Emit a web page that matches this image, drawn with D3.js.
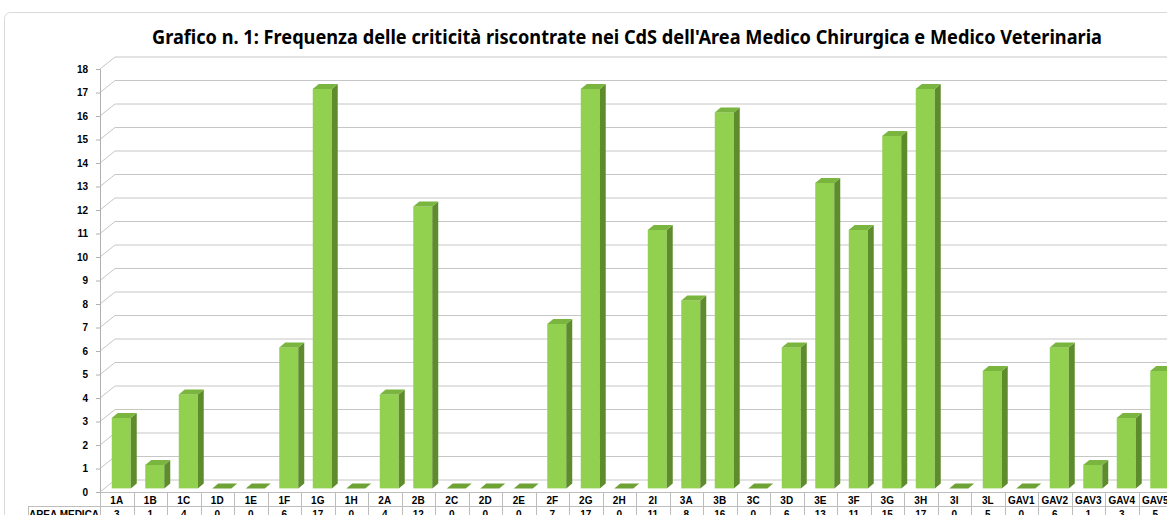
<!DOCTYPE html>
<html>
<head>
<meta charset="utf-8">
<script src="https://cdn.jsdelivr.net/npm/d3@7"></script>
<style>
  body { margin: 0; background: #fff; }
  svg { display: block; }
</style>
</head>
<body>
<script>
// categories and values (AREA MEDICA row)
const categories = ["1A","1B","1C","1D","1E","1F","1G","1H","2A","2B","2C","2D","2E","2F","2G","2H","2I",
  "3A","3B","3C","3D","3E","3F","3G","3H","3I","3L","GAV1","GAV2","GAV3","GAV4","GAV5"];
const areaMedica = [3,1,4,0,0,6,17,0,4,12,0,0,0,7,17,0,11,8,16,0,6,13,11,15,17,0,5,0,6,1,3,5];
const yTicks = d3.range(0, 19);
const rowLabel = "AREA MEDICA";
const title = "Grafico n. 1: Frequenza delle criticità riscontrate nei CdS dell'Area Medico Chirurgica e Medico Veterinaria";

const width = 1167, height = 515;
const left = 100, step = 33.5;
const depth = [15, -12];       // 3d depth offset of the back wall
const barFront = 0.3, barBack = 0.7;

const svg = d3.select("body").append("svg")
  .attr("width", width)
  .attr("height", height);

// outer chart frame
svg.append("rect")
  .attr("x", 4.5).attr("y", 12.5)
  .attr("width", 1300).attr("height", 600)
  .attr("rx", 6)
  .attr("fill", "#fff")
  .attr("stroke", "#d9d9d9");

svg.append("text")
  .attr("x", 627).attr("y", 44)
  .attr("text-anchor", "middle")
  .attr("font-family", "'Liberation Sans Narrow', 'Noto Sans', sans-serif")
  .attr("font-weight", "bold")
  .attr("font-size", 20)
  .attr("textLength", 950)
  .attr("lengthAdjust", "spacingAndGlyphs")
  .attr("fill", "#000")
  .text(title);

const y = d3.scaleLinear().domain([0, 18]).range([492, 69]);

const x = d3.scaleBand()
  .domain(categories)
  .range([left, left + categories.length * step])
  .paddingInner(0.433)
  .paddingOuter(0.2165);

const xCell = d3.scaleBand()
  .domain(categories)
  .range([left, left + categories.length * step]);

// gridlines: diagonal on the side wall + horizontal on the back wall
const grid = svg.append("g").attr("stroke", "#c6c6c6").attr("fill", "none");
yTicks.forEach(t => {
  grid.append("path")
    .attr("d", `M${left},${y(t)}L${left + depth[0]},${y(t) + depth[1]}H${width + 10}`);
});

// y axis
const yAxis = svg.append("g")
  .attr("transform", `translate(${left},0)`)
  .call(d3.axisLeft(y).tickValues(yTicks).tickSize(4).tickPadding(8));
yAxis.select(".domain").attr("stroke", "#b0b0b0");
yAxis.selectAll(".tick line").attr("stroke", "#b0b0b0");
yAxis.selectAll("text")
  .attr("font-family", "Arial, 'Liberation Sans', sans-serif")
  .attr("font-weight", "bold")
  .attr("font-size", 10)
  .attr("fill", "#000");

// 3d bars
const fx = depth[0] * barFront, fy = depth[1] * barFront;
const dx = depth[0] * (barBack - barFront), dy = depth[1] * (barBack - barFront);
const bw = x.bandwidth();

const bars = svg.append("g").selectAll("g")
  .data(categories.map((c, i) => ({ c, v: areaMedica[i] })))
  .join("g");

bars.each(function(d) {
  const g = d3.select(this);
  const x0 = x(d.c) + fx, x1 = x0 + bw;
  const yt = y(d.v) + fy, yb = y(0) + fy;
  if (d.v > 0) {
    g.append("rect")
      .attr("x", x0).attr("y", yt)
      .attr("width", bw).attr("height", yb - yt)
      .attr("fill", "#92d050");
    g.append("path")
      .attr("d", `M${x1},${yt}L${x1 + dx},${yt + dy}L${x1 + dx},${yb + dy}L${x1},${yb}Z`)
      .attr("fill", "#5e8c2c");
  }
  g.append("path")
    .attr("d", `M${x0},${yt}L${x1},${yt}L${x1 + dx},${yt + dy}L${x0 + dx},${yt + dy}Z`)
    .attr("fill", d.v > 0 ? "#7ab53f" : "#6ea235");
});

// data table
const table = svg.append("g");
const tLine = "#bdbdbd";
table.append("line")
  .attr("x1", left).attr("x2", width + 10)
  .attr("y1", 492.5).attr("y2", 492.5)
  .attr("stroke", tLine);
table.append("line")
  .attr("x1", 28).attr("x2", width + 10)
  .attr("y1", 506.5).attr("y2", 506.5)
  .attr("stroke", tLine);
table.append("line")
  .attr("x1", 28.5).attr("x2", 28.5)
  .attr("y1", 506).attr("y2", height)
  .attr("stroke", tLine);
d3.range(categories.length + 1).forEach(i => {
  const xx = Math.round(left + i * step) + 0.5;
  table.append("line")
    .attr("x1", xx).attr("x2", xx)
    .attr("y1", 492).attr("y2", height)
    .attr("stroke", tLine);
});

const cellText = sel => sel
  .attr("text-anchor", "middle")
  .attr("font-family", "Arial, 'Liberation Sans', sans-serif")
  .attr("font-weight", "bold")
  .attr("font-size", 10)
  .attr("fill", "#000");

table.selectAll("text.cat")
  .data(categories)
  .join("text")
  .attr("class", "cat")
  .attr("x", d => xCell(d) + xCell.bandwidth() / 2)
  .attr("y", 504)
  .call(cellText)
  .text(d => d);

table.selectAll("text.val")
  .data(areaMedica)
  .join("text")
  .attr("class", "val")
  .attr("x", (d, i) => xCell(categories[i]) + xCell.bandwidth() / 2)
  .attr("y", 518)
  .call(cellText)
  .text(d => d);

table.append("text")
  .attr("x", 64).attr("y", 518)
  .call(cellText)
  .text(rowLabel);
</script>
</body>
</html>
